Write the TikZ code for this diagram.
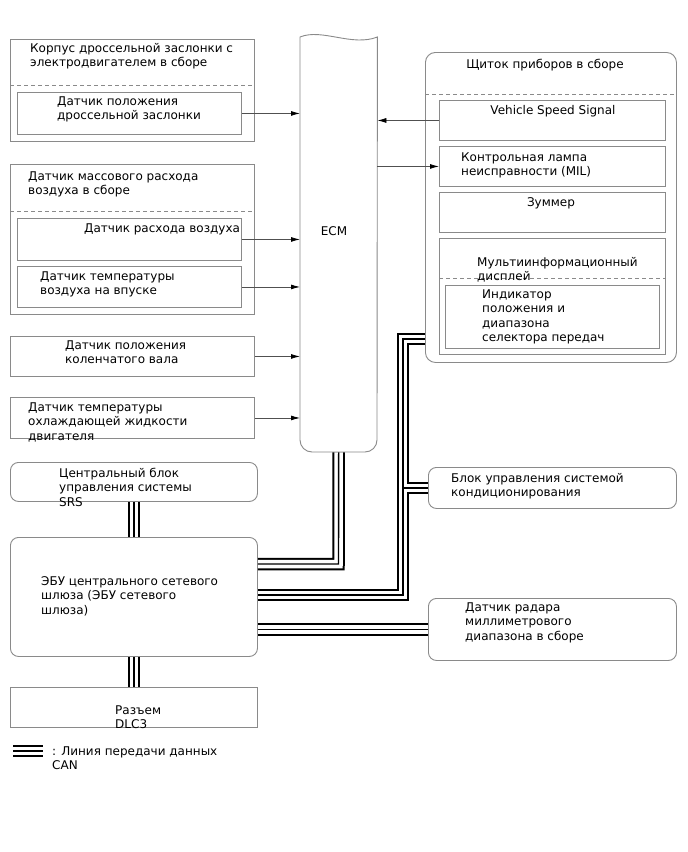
\documentclass[tikz,border=0pt]{standalone}
\usepackage{fontspec}
\setmainfont{DejaVu Sans}
\usetikzlibrary{arrows.meta,calc}
\definecolor{bord}{HTML}{8A8A8A}
\definecolor{lin}{HTML}{505050}
\begin{document}
\begin{tikzpicture}[x=1pt,y=-1pt,
  box/.style={draw=bord, line width=0.9pt, fill=white, inner sep=0, anchor=north west},
  rbox/.style={box, rounded corners=8pt},
  lbl/.style={anchor=base west, inner sep=0, align=left, font=\fontsize{12}{14.5}\selectfont},
  clbl/.style={anchor=base, inner sep=0, font=\fontsize{12}{14.5}\selectfont},
  dsh/.style={draw=bord, line width=0.9pt, dash pattern=on 4pt off 3pt},
  arr/.style={draw=lin, line width=0.8pt, -{Latex[length=9pt,width=5pt,color=black]}},
  canA/.style={line width=12.5pt, black},
  canB/.style={line width=8.5pt, white},
  canC/.style={line width=1.4pt, black},
]
\useasboundingbox (0,0) rectangle (688,852);
\fill[white] (0,0) rectangle (688,852);

% ---------- left boxes ----------
\node[box, minimum width=244, minimum height=102] (tb) at (10,39) {};
\draw[dsh] ($(tb.north west)+(0,46)$) -- ($(tb.north east)+(0,46)$);
\node[box, minimum width=224, minimum height=42] (tps) at (17,92) {};

\node[box, minimum width=244, minimum height=150] (maf) at (10,164) {};
\draw[dsh] ($(maf.north west)+(0,47)$) -- ($(maf.north east)+(0,47)$);
\node[box, minimum width=224, minimum height=42] (mafs) at (17,218) {};
\node[box, minimum width=224, minimum height=41] (iat) at (17,266) {};

\node[box, minimum width=244, minimum height=40] (ckp) at (10,336) {};
\node[box, minimum width=244, minimum height=41] (ect) at (10,397) {};

% ---------- ECM ----------
\node[inner sep=0, minimum width=77, minimum height=415, anchor=north west] (ecm) at (300,37) {};
\draw[draw=bord, line width=0.9pt, fill=white]
  (ecm.north west) .. controls (322,28) and (352,47) .. (ecm.north east)
  -- (377,440) arc[start angle=0, end angle=90, radius=12]
  -- (312,452) arc[start angle=90, end angle=180, radius=12] -- cycle;
\node[clbl, anchor=center] (ecmt) at (334,231) {ECM};

% ---------- meter ----------
\node[box, rounded corners=10pt, minimum width=251, minimum height=310] (meter) at (425,52) {};
\draw[dsh] ($(meter.north west)+(0,42)$) -- ($(meter.north east)+(0,42)$);
\node[box, minimum width=226, minimum height=40] (vss) at (439,100) {};
\node[box, minimum width=226, minimum height=40] (mil) at (439,146) {};
\node[box, minimum width=226, minimum height=40] (buz) at (439,192) {};
\node[box, minimum width=226, minimum height=116] (mid) at (439,238) {};
\draw[dsh] ($(mid.north west)+(0,40)$) -- ($(mid.north east)+(0,40)$);
\node[box, minimum width=214, minimum height=63] (ind) at (445,285) {};

% ---------- other ECUs ----------
\node[rbox, minimum width=248, minimum height=41] (ac) at (428,467) {};
\node[rbox, minimum width=248, minimum height=62] (radar) at (428,598) {};
\node[rbox, minimum width=247, minimum height=39] (srs) at (10,462) {};
\node[rbox, minimum width=247, minimum height=119] (gw) at (10,537) {};
\node[box, minimum width=247, minimum height=40] (dlc) at (10,687) {};

% ---------- CAN buses ----------
\coordinate (b1) at (338.5,564);
\coordinate (m1) at (425,339);
\coordinate (b2) at (403,595);
\coordinate (lg1) at (13,751);
\coordinate (lg2) at (43,751);
\foreach \s in {canA,canB,canC}{
  \draw[\s] (ecm.south) -- (b1) -- (b1 -| gw.east);
  \draw[\s] (m1) -| (b2) -- (b2 -| gw.east);
  \draw[\s] (b2 |- ac.west) -- (ac.west);
  \draw[\s] (radar.west -| gw.east) -- (radar.west);
  \draw[\s] (srs.south) -- (gw.north);
  \draw[\s] (gw.south) -- (dlc.north);
  \draw[\s] (lg1) -- (lg2);
}

% ---------- arrows ----------
\draw[arr] (tps.east) -- (tps.east -| ecm.west);
\draw[arr] (mafs.east) -- (mafs.east -| ecm.west);
\draw[arr] (iat.east) -- (iat.east -| ecm.west);
\draw[arr] (ckp.east) -- (ckp.east -| ecm.west);
\draw[arr] (ect.east) -- (ect.east -| ecm.west);
\draw[arr] (vss.west) -- (vss.west -| ecm.east);
\draw[arr] (mil.west -| ecm.east) -- (mil.west);

% ---------- texts (anchor = baseline of last line) ----------
\node[lbl] (t1) at (30,66.5) {Корпус дроссельной заслонки с\\электродвигателем в сборе};
\node[lbl] (t2) at (57,119.5) {Датчик положения\\дроссельной заслонки};
\node[lbl] (t3) at (28,194.5) {Датчик массового расхода\\воздуха в сборе};
\node[lbl] (t4) at (84,232) {Датчик расхода воздуха};
\node[lbl] (t5) at (40,294.5) {Датчик температуры\\воздуха на впуске};
\node[lbl] (t6) at (65,363.5) {Датчик положения\\коленчатого вала};
\node[lbl] (t7) at (28,440) {Датчик температуры\\охлаждающей жидкости\\двигателя};
\node[clbl] (t8) at (545,68) {Щиток приборов в сборе};
\node[clbl] (t9) at (553,114) {Vehicle Speed Signal};
\node[lbl] (t10) at (461,175.5) {Контрольная лампа\\неисправности (MIL)};
\node[clbl] (t11) at (551,206) {Зуммер};
\node[lbl] (t12) at (477,280.5) {Мультиинформационный\\дисплей};
\node[lbl] (t13) at (482,341.5) {Индикатор\\положения и\\диапазона\\селектора передач};
\node[lbl] (t14) at (451,496.5) {Блок управления системой\\кондиционирования};
\node[lbl] (t15) at (465,640) {Датчик радара\\миллиметрового\\диапазона в сборе};
\node[lbl] (t16) at (59,506) {Центральный блок\\управления системы\\SRS};
\node[lbl] (t17) at (41,614) {ЭБУ центрального сетевого\\шлюза (ЭБУ сетевого\\шлюза)};
\node[lbl] (t18) at (115,728.5) {Разъем\\DLC3};
\node[lbl] (t19) at (52,769.5) {: Линия передачи данных\\CAN};
\end{tikzpicture}
\end{document}
